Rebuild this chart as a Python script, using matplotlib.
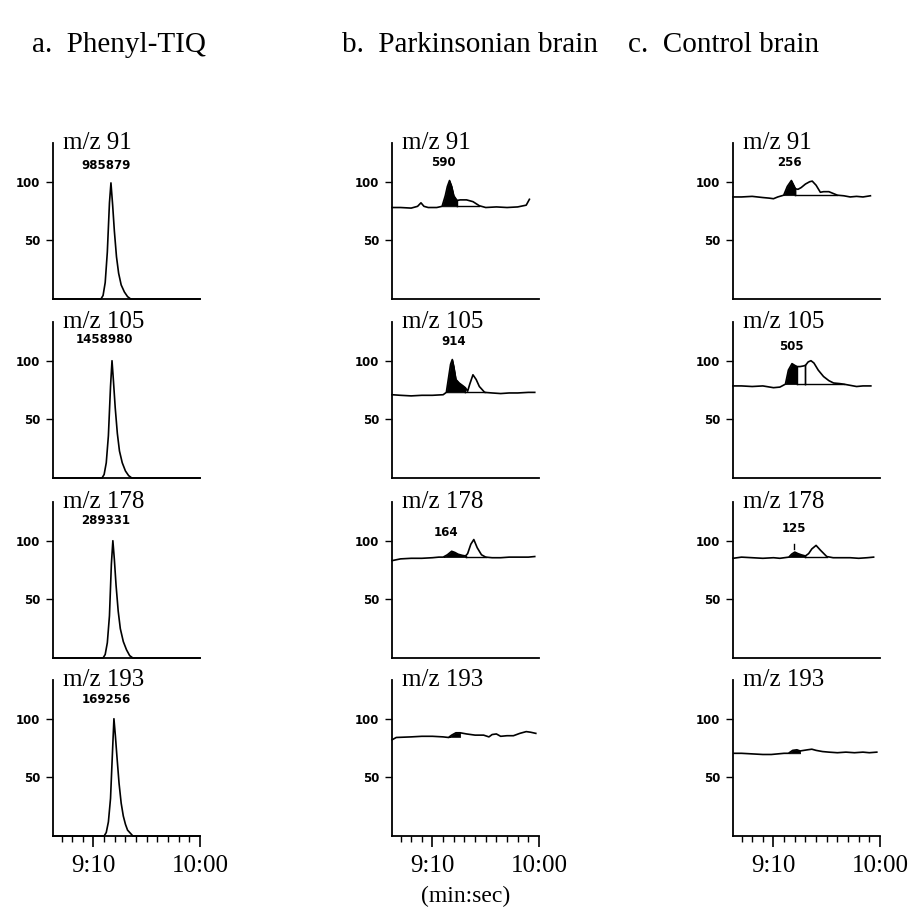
#!/usr/bin/env python3

import matplotlib as mpl
mpl.use("Agg")

import matplotlib.pyplot as plt
from matplotlib.ticker import FixedLocator, MultipleLocator, NullLocator
import numpy as np


# time axis is in seconds (9:10 = 550 s, 10:00 = 600 s)
tmin, tmax = 531, 600
ymax = 133

headers = ["a.  Phenyl-TIQ", "b.  Parkinsonian brain", "c.  Control brain"]
ions = ["m/z 91", "m/z 105", "m/z 178", "m/z 193"]

# a. Phenyl-TIQ standard
a91_t = [531, 553.5, 554.5, 555.5, 556.5, 557.5, 558.2, 559, 559.8, 560.8, 561.8, 563, 564.5, 566, 567.5, 600]
a91_y = [0, 0, 3, 14, 40, 82, 99, 80, 58, 36, 22, 12, 6, 2, 0, 0]
a105_t = [531, 554, 555, 556, 557, 558, 558.7, 559.4, 560.2, 561.2, 562.2, 563.5, 565, 566.5, 568, 600]
a105_y = [0, 0, 3, 13, 36, 78, 100, 82, 60, 38, 23, 13, 6, 2, 0, 0]
a178_t = [531, 554.5, 555.5, 556.5, 557.5, 558.4, 559.1, 559.8, 560.6, 561.6, 562.6, 564, 565.5, 567, 568.5, 600]
a178_y = [0, 0, 3, 13, 36, 80, 100, 84, 62, 40, 25, 14, 7, 2, 0, 0]
a193_t = [531, 555, 556, 557, 558, 559, 559.6, 560.3, 561, 562, 563, 564, 565, 566, 568.5, 600]
a193_y = [0, 0, 3, 12, 32, 75, 100, 85, 68, 45, 28, 17, 10, 5, 0, 0]
a_labels = ["985879", "1458980", "289331", "169256"]
a_label_t = [556.0, 555.0, 555.5, 556.0]
a_label_y = [114, 118, 117, 116]

# b. Parkinsonian brain
b91_t = [531, 535, 540, 543, 544.6, 546, 548, 552, 554.5, 556, 557, 558, 559, 560, 561.5,
         563, 566, 569, 572, 575, 580, 585, 590, 594, 595.5]
b91_y = [78, 78, 77.5, 79, 82, 79, 78, 78, 79, 88, 96, 101, 96, 88, 84,
         84.5, 84.5, 83, 79.5, 78, 78.5, 78, 78.5, 80, 85]
b105_t = [531, 535, 540, 545, 550, 555, 556.5, 557.5, 558.5, 559.3, 560, 561, 562.5, 564, 565.4,
          566.5, 567.5, 569, 570.5, 572, 574.5, 578, 582, 586, 590, 595, 598]
b105_y = [71, 70.5, 70, 70.5, 70.5, 71, 73, 85, 97, 101, 95, 84, 81, 79, 77,
          74, 80, 88, 84, 78, 73, 72.5, 72, 72.5, 72.5, 73, 73]
b178_t = [531, 535, 540, 545, 550, 553, 555, 557, 559, 560.5, 562, 564, 565.5,
          566.5, 568, 569.4, 571, 573, 575, 578, 582, 586, 590, 595, 598]
b178_y = [83, 84.5, 85, 85, 85.5, 86, 86, 88, 91, 90, 88.5, 87.5, 87,
          89, 97, 101, 94, 88, 86, 85.5, 85.5, 86, 86, 86, 86.5]
b193_t = [531, 533, 540, 545, 550, 555, 557.5, 559, 561, 563, 566, 570, 574, 576.5,
          578, 580, 582, 585, 588, 591, 594, 596, 598.5]
b193_y = [82, 84, 84.5, 85, 85, 84.5, 84, 86, 88, 88, 87, 86, 86, 84.5,
          86.5, 87, 85, 85.5, 85.5, 87.5, 89, 88.5, 87.5]
b_labels = ["590", "914", "164", ""]
b_label_t = [555.2, 559.9, 556.5, 0]
b_label_y = [116, 116, 107, 0]
# integrated peaks (start, end, base level)
b_black = [(554.5, 561.5, 79), (556.5, 565.4, 73), (555, 565.5, 86), (557.5, 563, 84.5)]
b_white = [[(561.5, 572, 79.5)], [(565.4, 574.5, 73)], [(565.5, 575, 86)], []]

# c. Control brain
c91_t = [531, 535, 540, 545, 548, 550, 552, 554.8, 556.5, 558.4, 560.3, 561.5, 563, 565, 567,
         568.2, 570, 572, 573.5, 576, 578, 580, 583, 586, 589, 592, 595.5]
c91_y = [87, 87, 87.5, 86.5, 86, 85.5, 87, 88.5, 96, 101, 94, 93.5, 95, 98, 100,
         100.5, 97, 91, 91.5, 91.5, 90, 88.5, 88, 87, 87.5, 87, 88]
c105_t = [531, 535, 540, 545, 550, 553, 555.6, 557, 558.7, 560, 561.1, 562.5, 564, 565,
          566.3, 567.6, 569, 571, 573.5, 576, 578.2, 581, 583, 586, 589, 592, 595.7]
c105_y = [78.5, 78.5, 78, 78.5, 77, 77.5, 80, 92, 97.5, 96, 95, 95, 95.5, 96,
          99, 100, 98, 92, 86.5, 83, 81, 80.5, 80, 79, 78, 78.5, 78.5]
c178_t = [531, 535, 540, 545, 550, 553, 557.2, 558.5, 560, 561.5, 563, 565,
          566.5, 568, 570, 572, 575, 578, 582, 586, 590, 594, 597]
c178_y = [85, 86, 85.5, 85, 85.5, 85, 86, 88.5, 90.3, 89, 88, 87,
          89, 93, 96, 92, 86.5, 85.5, 85.5, 85.5, 85, 85.5, 86]
c193_t = [531.5, 535, 540, 545, 549, 552, 555, 557, 559, 561, 562.5, 566, 568,
          570, 573, 576, 580, 584, 588, 592, 595, 598.5]
c193_y = [70.5, 70.5, 70, 69.5, 69.5, 70, 70.5, 70.5, 73, 73.5, 72.5, 73.5, 74,
          73, 72, 71.5, 71, 71.5, 71, 71.5, 71, 71.5]
c_labels = ["256", "505", "125", ""]
c_label_t = [557.5, 558.3, 559.5, 0]
c_label_y = [116, 112, 110, 0]
c_black = [(554.8, 560.3, 88.5), (555.6, 561.1, 80), (557.2, 565, 86), (557, 562.5, 70.5)]
c_white = [[(560.3, 580, 88.5)], [(561.1, 565, 80), (565, 583, 80)], [(565, 575, 86)], []]


def draw_panel(ax, t, y, black=None, white=(), label="", label_t=0, label_y=0):
    t = np.array(t)
    y = np.array(y)
    ax.plot(t, y, color="black", lw=1.2, clip_on=False, zorder=3)
    if black:
        t0, t1, base = black
        m = (t >= t0) & (t <= t1)
        ax.fill_between(t[m], y[m], base, color="black", lw=0.5, zorder=2)
    for t0, t1, base in white:
        ax.plot([t0, t1], [base, base], color="black", lw=1.0, zorder=2)
        for tv in (t0, t1):
            ax.plot([tv, tv], [base, np.interp(tv, t, y)], color="black", lw=1.0, zorder=2)
    if label:
        ax.text(label_t, label_y, label, ha="center", va="center",
                fontsize=8.5, fontweight="bold", family="DejaVu Sans")


if __name__ == "__main__":

    fig = plt.figure(figsize=(9.11, 9.11), dpi=100)

    lefts = [53, 392, 733]
    bottoms = [299, 478, 658, 836]
    width = 147
    height = 156

    a_data = [(a91_t, a91_y), (a105_t, a105_y), (a178_t, a178_y), (a193_t, a193_y)]
    b_data = [(b91_t, b91_y), (b105_t, b105_y), (b178_t, b178_y), (b193_t, b193_y)]
    c_data = [(c91_t, c91_y), (c105_t, c105_y), (c178_t, c178_y), (c193_t, c193_y)]

    for col in range(3):
        for row in range(4):
            x0 = lefts[col] / 911
            y0 = 1 - bottoms[row] / 911
            ax = fig.add_axes([x0, y0, width / 911, height / 911])
            ax.set_xlim(tmin, tmax)
            ax.set_ylim(0, ymax)
            for s in ("top", "right"):
                ax.spines[s].set_visible(False)
            for s in ("left", "bottom"):
                ax.spines[s].set_linewidth(1.3)

            ax.yaxis.set_major_locator(FixedLocator([50, 100]))
            ax.tick_params(axis="y", length=5, width=1.0, pad=4)
            for lab in ax.get_yticklabels():
                lab.set_fontsize(8.5)
                lab.set_fontweight("bold")

            if row == 3:
                ax.xaxis.set_major_locator(FixedLocator([550, 600]))
                ax.set_xticklabels(["9:10", "10:00"], family="Liberation Serif", fontsize=18)
                ax.xaxis.set_minor_locator(MultipleLocator(5))
                ax.tick_params(axis="x", which="major", length=8, width=1.2, pad=6)
                ax.tick_params(axis="x", which="minor", length=4, width=1.0)
            else:
                ax.xaxis.set_major_locator(NullLocator())

            ax.text(0.07, 1.0, ions[row], transform=ax.transAxes, ha="left", va="center",
                    family="Liberation Serif", fontsize=18)

            if col == 0:
                t, y = a_data[row]
                draw_panel(ax, t, y, label=a_labels[row],
                           label_t=a_label_t[row], label_y=a_label_y[row])
            elif col == 1:
                t, y = b_data[row]
                draw_panel(ax, t, y, b_black[row], b_white[row], b_labels[row],
                           b_label_t[row], b_label_y[row])
            else:
                t, y = c_data[row]
                draw_panel(ax, t, y, c_black[row], c_white[row], c_labels[row],
                           c_label_t[row], c_label_y[row])
                if row == 2:
                    # small marker under the "125" label
                    ax.plot([559.7, 559.7], [93, 97], color="black", lw=1.0)

    fig.text(466 / 911, 1 - 896 / 911, "(min:sec)", ha="center", va="center",
             family="Liberation Serif", fontsize=17)

    header_x = [32, 342, 628]
    for hx, h in zip(header_x, headers):
        fig.text(hx / 911, 1 - 45 / 911, h, ha="left", va="center",
                 family="Liberation Serif", fontsize=21)

    fig.savefig("out.png", dpi=100)
